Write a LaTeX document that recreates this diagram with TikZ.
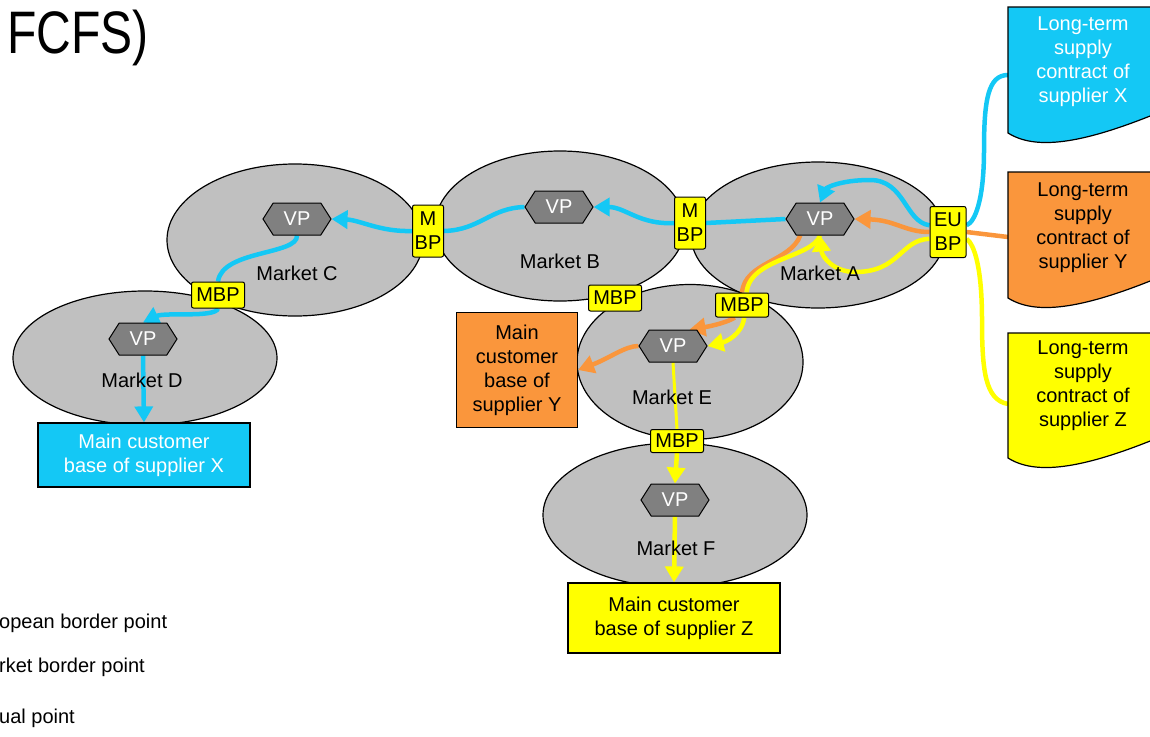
\documentclass[tikz,border=0pt]{standalone}
\usepackage{fontspec}
\setmainfont{Liberation Sans}
\usetikzlibrary{shapes.geometric,shapes.symbols,arrows.meta}

\definecolor{mkgray}{RGB}{192,192,192}
\definecolor{vpgray}{RGB}{128,128,128}
\definecolor{supx}{RGB}{20,200,245}
\definecolor{supy}{RGB}{250,150,60}
\definecolor{supz}{RGB}{255,255,0}

\pgfdeclarelayer{bg}
\pgfdeclarelayer{flows}
\pgfsetlayers{bg,flows,main}

\begin{document}
\begin{tikzpicture}[x=1pt,y=-1pt,
    txt/.style={font=\fontsize{20}{24}\selectfont},
    market/.style={ellipse,draw,fill=mkgray,line width=1.2pt,inner sep=0pt},
    vp/.style={signal,signal to=east and west,signal pointer angle=115,draw,fill=vpgray,
      line width=1pt,text=white,minimum width=68,minimum height=32,inner sep=1pt,txt},
    bp/.style={draw,fill=supz,rounded corners=2pt,line width=1pt,inner sep=2pt,align=center,txt},
    cust/.style={draw,line width=1.2pt,align=center,txt},
    link/.style={line width=4.5pt},
    flow/.style={link,-{Triangle[length=16pt,width=18pt]}},
  ]
  \useasboundingbox (0,0) rectangle (1150,736);
  \clip (0,0) rectangle (1150,736);

  \node[anchor=base west,inner sep=0pt] (title) at (7,53)
    {\fontsize{60}{60}\selectfont\scalebox{.8}[1]{FCFS)}};

  % markets
  \begin{pgfonlayer}{bg}
    \node[market,minimum width=264,minimum height=134] (mD) at (145,358) {};
    \node[market,minimum width=256,minimum height=152] (mC) at (295,240) {};
    \node[market,minimum width=250,minimum height=150] (mB) at (560,226) {};
    \node[market,minimum width=254,minimum height=146] (mA) at (818,235) {};
    \node[market,minimum width=226,minimum height=155] (mE) at (690,362) {};
    \node[market,minimum width=264,minimum height=144] (mF) at (675,515) {};
  \end{pgfonlayer}

  \node[txt] (lbA) at (820,273) {Market A};
  \node[txt] (lbB) at (560,261) {Market B};
  \node[txt] (lbC) at (297,273) {Market C};
  \node[txt] (lbD) at (142,380) {Market D};
  \node[txt] (lbE) at (672,397) {Market E};
  \node[txt] (lbF) at (676,548) {Market F};

  % virtual points
  \node[vp] (vpA) at (820,219) {VP};
  \node[vp] (vpB) at (559,207) {VP};
  \node[vp] (vpC) at (297,219) {VP};
  \node[vp] (vpD) at (143,339) {VP};
  \node[vp] (vpE) at (673,346) {VP};
  \node[vp] (vpF) at (675,500) {VP};

  % border points
  \node[bp,minimum width=36,minimum height=51] (eu) at (948,232) {EU\\BP};
  \node[bp,minimum width=31,minimum height=52] (mbpAB) at (690,223) {M\\BP};
  \node[bp,minimum width=31,minimum height=52] (mbpBC) at (428,231) {M\\BP};
  \node[bp,minimum width=53,minimum height=26] (mbpCD) at (218,295) {MBP};
  \node[bp,minimum width=53,minimum height=26] (mbpBE) at (615,298) {MBP};
  \node[bp,minimum width=53,minimum height=24] (mbpAE) at (742,305) {MBP};
  \node[bp,minimum width=53,minimum height=23] (mbpEF) at (677,441) {MBP};

  % customer bases
  \node[cust,fill=supx,text=white,minimum width=212,minimum height=64] (custX) at (144,455)
    {Main customer\\base of supplier X};
  \node[cust,fill=supy,minimum width=121,minimum height=115] (custY) at (517,370)
    {Main\\customer\\base of\\supplier Y};
  \node[cust,fill=supz,minimum width=212,minimum height=70] (custZ) at (674,618)
    {Main customer\\base of supplier Z};

  % long-term contracts
  \draw[fill=supx,line width=1.2pt] (1160,7) -- (1008,7) -- (1008,133)
    .. controls (1035,150) and (1080,145) .. (1160,112) -- cycle;
  \draw[fill=supy,line width=1.2pt] (1160,172) -- (1008,172) -- (1008,298)
    .. controls (1035,315) and (1080,310) .. (1160,277) -- cycle;
  \draw[fill=supz,line width=1.2pt] (1160,333) -- (1008,333) -- (1008,458)
    .. controls (1035,475) and (1080,470) .. (1160,437) -- cycle;
  \node[txt,align=center,text=white] (ctxX) at (1083,62) {Long-term\\supply\\contract of\\supplier X};
  \node[txt,align=center] (ctxY) at (1083,228) {Long-term\\supply\\contract of\\supplier Y};
  \node[txt,align=center] (ctxZ) at (1083,386) {Long-term\\supply\\contract of\\supplier Z};
  \coordinate (ctX) at (1008,75);
  \coordinate (ctY) at (1008,237);
  \coordinate (ctZ) at (1008,404);

  \node[txt,anchor=west,inner sep=0pt] (lgEU) at (-1,623) {opean border point};
  \node[txt,anchor=west,inner sep=0pt] (lgMBP) at (-1,667) {rket border point};
  \node[txt,anchor=west,inner sep=0pt] (lgVP) at (-1,718) {ual point};

  \begin{pgfonlayer}{flows}
    % supplier X
    \draw[link,supx] (ctX) .. controls (988,75) and (984,100) .. (984,150)
      .. controls (984,200) and (975,222) .. (eu.20);
    \draw[flow,supx] (eu.160) .. controls (905,222) and (905,180) .. (870,180)
      .. controls (840,180) and (826,188) .. (vpA.north);
    \draw[link,supx] (vpA.west) -- (mbpAB.east);
    \draw[flow,supx] (mbpAB.west) .. controls (640,225) and (625,207) .. (vpB.east);
    \draw[link,supx] (vpB.west) .. controls (490,208) and (480,230) .. (mbpBC.east);
    \draw[flow,supx] (mbpBC.west) .. controls (380,232) and (360,220) .. (vpC.east);
    \draw[link,supx] (vpC.south) .. controls (298,255) and (222,250) .. (mbpCD.north);
    \draw[flow,supx] (mbpCD.south) .. controls (215,318) and (165,312) .. (vpD.north);
    \draw[flow,supx] (vpD.south) -- (custX.north);
    % supplier Y
    \draw[link,supy] (ctY) -- (eu.east);
    \draw[flow,supy] (eu.west) .. controls (905,232) and (895,220) .. (vpA.east);
    \draw[link,supy] (vpA.-140) .. controls (790,262) and (745,262) .. (mbpAE.north);
    \draw[flow,supy] (mbpAE.-120) .. controls (728,322) and (712,326) .. (vpE.45);
    \draw[flow,supy] (vpE.west) .. controls (625,346) and (610,358) .. (custY.east);
    % supplier Z
    \draw[link,supz] (ctZ) .. controls (985,400) and (982,370) .. (982,320)
      .. controls (982,270) and (975,245) .. (eu.-20);
    \draw[flow,supz] (eu.200) .. controls (900,240) and (900,272) .. (855,272)
      .. controls (835,272) and (822,258) .. (vpA.south);
    \draw[link,supz] (vpA.south) .. controls (812,258) and (750,258) .. (mbpAE.70);
    \draw[flow,supz] (mbpAE.-80) .. controls (742,335) and (725,342) .. (vpE.east);
    \draw[supz,line width=3pt] (vpE.south) -- (mbpEF.north);
    \draw[flow,supz] (mbpEF.south) -- (vpF.north);
    \draw[flow,supz] (vpF.south) -- (custZ.north);
  \end{pgfonlayer}
\end{tikzpicture}
\end{document}
